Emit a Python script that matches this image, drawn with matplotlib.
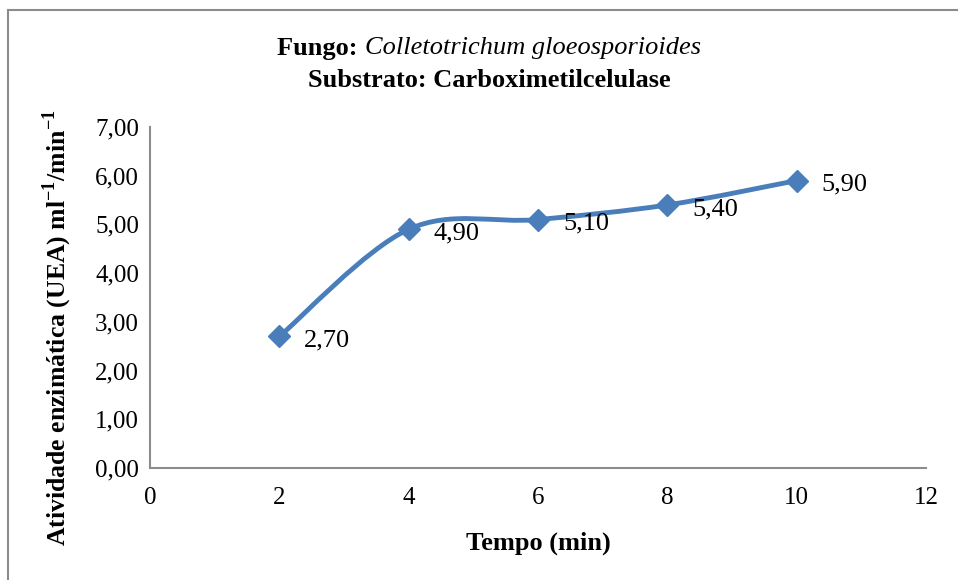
import matplotlib.pyplot as plt
from matplotlib import font_manager
from matplotlib.path import Path
from matplotlib.patches import PathPatch
from matplotlib.lines import Line2D

# dados
tempo = [2, 4, 6, 8, 10]
atividade = [2.70, 4.90, 5.10, 5.40, 5.90]
rotulos = ['2,70', '4,90', '5,10', '5,40', '5,90']
yticks = [0, 1, 2, 3, 4, 5, 6, 7]
xticks = [0, 2, 4, 6, 8, 10, 12]

azul = '#4a7ebb'
cinza = '#8c8c8c'

plt.rcParams['font.family'] = ['Liberation Serif', 'DejaVu Serif']
plt.rcParams['mathtext.fontset'] = 'custom'
plt.rcParams['mathtext.rm'] = 'Liberation Serif'
plt.rcParams['mathtext.bf'] = 'Liberation Serif:bold'

# procura uma fonte serif italica instalada
italicas = [f for f in font_manager.fontManager.ttflist if f.style == 'italic' and f.weight in (400, 'normal')]
fam_it = 'DejaVu Serif'
for nome in ['Liberation Serif', 'DejaVu Serif']:
    if any(f.name == nome for f in italicas):
        fam_it = nome
        break

fig = plt.figure(figsize=(9.58, 5.8), dpi=100)
ax = fig.add_axes([150/958, 112/580, 776/958, 341/580])

# linha suavizada estilo Excel (bezier Catmull-Rom)
pts = list(zip(tempo, atividade))
verts = [pts[0]]
codes = [Path.MOVETO]
for i in range(len(pts) - 1):
    p0 = pts[i - 1] if i > 0 else pts[i]
    p1 = pts[i]
    p2 = pts[i + 1]
    p3 = pts[i + 2] if i + 2 < len(pts) else pts[i + 1]
    c1 = (p1[0] + (p2[0] - p0[0]) / 6, p1[1] + (p2[1] - p0[1]) / 6)
    c2 = (p2[0] - (p3[0] - p1[0]) / 6, p2[1] - (p3[1] - p1[1]) / 6)
    verts += [c1, c2, p2]
    codes += [Path.CURVE4] * 3
ax.add_patch(PathPatch(Path(verts, codes), facecolor='none', edgecolor=azul, lw=3.5,
                       capstyle='round', joinstyle='round', zorder=2))
ax.plot(tempo, atividade, linestyle='none', marker='D', markersize=11, color=azul, zorder=3)

for x, y, r in zip(tempo, atividade, rotulos):
    ax.annotate(r, (x, y), xytext=(18, -3), textcoords='offset points',
                ha='left', va='center', fontsize=19)

ax.set_xlim(0, 12)
ax.set_ylim(0, 7)
ax.set_xticks(xticks)
ax.set_yticks(yticks)
ax.set_yticklabels([('%.2f' % v).replace('.', ',') for v in yticks])
ax.tick_params(length=0, labelsize=18, pad=8)
ax.tick_params(axis='x', pad=14)
for s in ['top', 'right']:
    ax.spines[s].set_visible(False)
for s in ['left', 'bottom']:
    ax.spines[s].set_color(cinza)
    ax.spines[s].set_linewidth(1.5)

ax.set_xlabel('Tempo (min)', fontsize=19, fontweight='bold', va='center')
ax.xaxis.set_label_coords(0.5, -(543 - 468) / 341, transform=ax.transAxes)
ax.set_ylabel(r'Atividade enzimática (UEA) ml$^{\mathbf{-1}}$/min$^{\mathbf{-1}}$',
              fontsize=18.5, fontweight='bold', va='center')
ax.yaxis.set_label_coords(-(150 - 57) / 776, (468 - 328) / 341, transform=ax.transAxes)

# titulo: parte em negrito + parte em italico, centrado junto
cx = 489 / 958
ty = 1 - 48/580
t1 = fig.text(0, ty, 'Fungo: ', fontsize=19, fontweight='bold', ha='left', va='center')
t2 = fig.text(0, ty, 'Colletotrichum gloeosporioides', fontsize=19, style='italic',
              family=fam_it, ha='left', va='center')
rend = fig.canvas.get_renderer()
w1 = t1.get_window_extent(rend).width / fig.bbox.width
w2 = t2.get_window_extent(rend).width / fig.bbox.width
x0 = cx - (w1 + w2) / 2
t1.set_x(x0)
t2.set_x(x0 + w1)
fig.text(cx, 1 - 80/580, 'Substrato: Carboximetilcelulase', fontsize=19, fontweight='bold',
         ha='center', va='center')

# moldura
fig.add_artist(Line2D([8/958, 8/958], [0, 1 - 10/580], transform=fig.transFigure, color=cinza, lw=1.5))
fig.add_artist(Line2D([8/958, 1], [1 - 10/580, 1 - 10/580], transform=fig.transFigure, color=cinza, lw=1.5))

fig.savefig('out.png', dpi=100)
